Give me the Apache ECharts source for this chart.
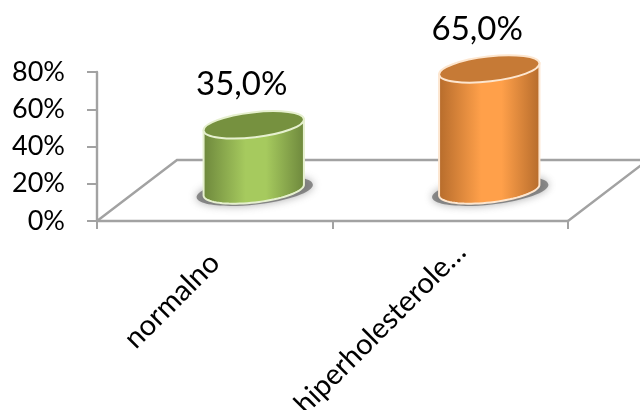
<!DOCTYPE html>
<html><head><meta charset="utf-8">
<style>html,body{margin:0;padding:0;background:#fff}#c{width:640px;height:410px}</style>
<script src="https://cdn.jsdelivr.net/npm/echarts@6/dist/echarts.min.js"></script>
</head><body><div id="c"></div>
<script>
const categories = ['normalno', 'hiperholesterole…'];
const values = [35, 65];
const dataLabels = ['35,0%', '65,0%'];
const yTicks = {min: 0, max: 80, interval: 20};

const FONT = 'Lato';
const DEPTH = [39, -31];
const RX = 50.5, RY = 12.5, TILT = -6.5 * Math.PI / 180;
const AXIS = '#a2a2a2';
const CATEGORY_TEXT = [{}, {align: 'center', padding: [0, 198, 0, 0]}];
const STYLES = [
  {edge: '#6d873c', mid: '#a6ca5e', top: '#76913f', rim: '#e6f0cf'},
  {edge: '#b56b2b', mid: '#ffa04a', top: '#c67a36', rim: '#fde6cf'}
];

function ellipsePt(cx, cy, t) {
  const x = RX * Math.cos(t), y = RY * Math.sin(t);
  return [cx + x * Math.cos(TILT) - y * Math.sin(TILT), cy + x * Math.sin(TILT) + y * Math.cos(TILT)];
}

function renderFloor(params) {
  const g = params.coordSys;
  const y0 = g.y + g.height, x0 = g.x, x1 = g.x + g.width;
  const dx = DEPTH[0] * 2 + 2, dy = DEPTH[1] * 2 + 1;
  const line = {stroke: AXIS, lineWidth: 2.4, fill: null};
  return {type: 'polyline', shape: {points: [[x0, y0], [x0 + dx, y0 + dy], [x1 + dx, y0 + dy], [x1, y0]]}, style: line};
}

function renderCylinder(params, api) {
  const i = api.value(0), v = api.value(1);
  const top = api.coord([i, v]), base = api.coord([i, 0]);
  const cx = top[0] + DEPTH[0], ty = top[1] + DEPTH[1], by = base[1] + DEPTH[1];
  const s = STYLES[i];
  const pts = [ellipsePt(cx, ty, Math.PI)];
  for (let k = 0; k <= 40; k++) pts.push(ellipsePt(cx, by, Math.PI - Math.PI * k / 40));
  pts.push(ellipsePt(cx, ty, 0));
  const grad = new echarts.graphic.LinearGradient(0, 0, 1, 0, [
    {offset: 0, color: s.edge}, {offset: 0.42, color: s.mid},
    {offset: 0.62, color: s.mid}, {offset: 1, color: s.edge}
  ]);
  return {type: 'group', children: [
    {type: 'ellipse', shape: {cx: cx + 1, cy: by + 1, rx: RX + 8, ry: RY + 1},
      originX: cx + 1, originY: by + 1, rotation: -TILT,
      style: {fill: 'rgba(100,100,100,0.7)', shadowBlur: 8, shadowColor: 'rgba(90,90,90,0.7)'}},
    {type: 'polygon', shape: {points: pts},
      style: {fill: grad, stroke: s.rim, lineWidth: 2}},
    {type: 'ellipse', shape: {cx: cx, cy: ty, rx: RX, ry: RY},
      originX: cx, originY: ty, rotation: -TILT,
      style: {fill: s.top, stroke: s.rim, lineWidth: 2}},
    {type: 'text', style: {text: dataLabels[i], x: cx - 12, y: ty - 40, align: 'center', verticalAlign: 'middle',
      font: '33px ' + FONT, fill: '#000'}}
  ]};
}

const chart = echarts.init(document.getElementById('c'), null, {renderer: 'canvas'});
chart.setOption({
  animation: false,
  backgroundColor: '#fff',
  grid: {left: 97, top: 72, width: 471, height: 149, containLabel: false, outerBoundsMode: 'none'},
  xAxis: {
    type: 'category', data: categories.map((c, i) => ({value: c, textStyle: CATEGORY_TEXT[i]})),
    axisLine: {show: true, lineStyle: {color: AXIS, width: 2.4}},
    axisTick: {show: true, length: 8, alignWithLabel: false, lineStyle: {color: AXIS, width: 2}},
    axisLabel: {rotate: 45, interval: 0, margin: 37, color: '#000', fontFamily: FONT, fontSize: 29}
  },
  yAxis: {
    type: 'value', min: yTicks.min, max: yTicks.max, interval: yTicks.interval,
    axisLine: {show: true, lineStyle: {color: AXIS, width: 2.4}},
    axisTick: {show: true, length: 10, lineStyle: {color: AXIS, width: 2}},
    splitLine: {show: false},
    axisLabel: {formatter: '{value}%', margin: 32, color: '#000', fontFamily: FONT, fontSize: 27}
  },
  series: [
    {type: 'custom', z: 1, data: [[0, 0]], renderItem: renderFloor, silent: true},
    {type: 'custom', z: 2, data: values.map((v, i) => [i, v]), encode: {x: 0, y: 1}, renderItem: renderCylinder, silent: true}
  ]
});
</script></body></html>
